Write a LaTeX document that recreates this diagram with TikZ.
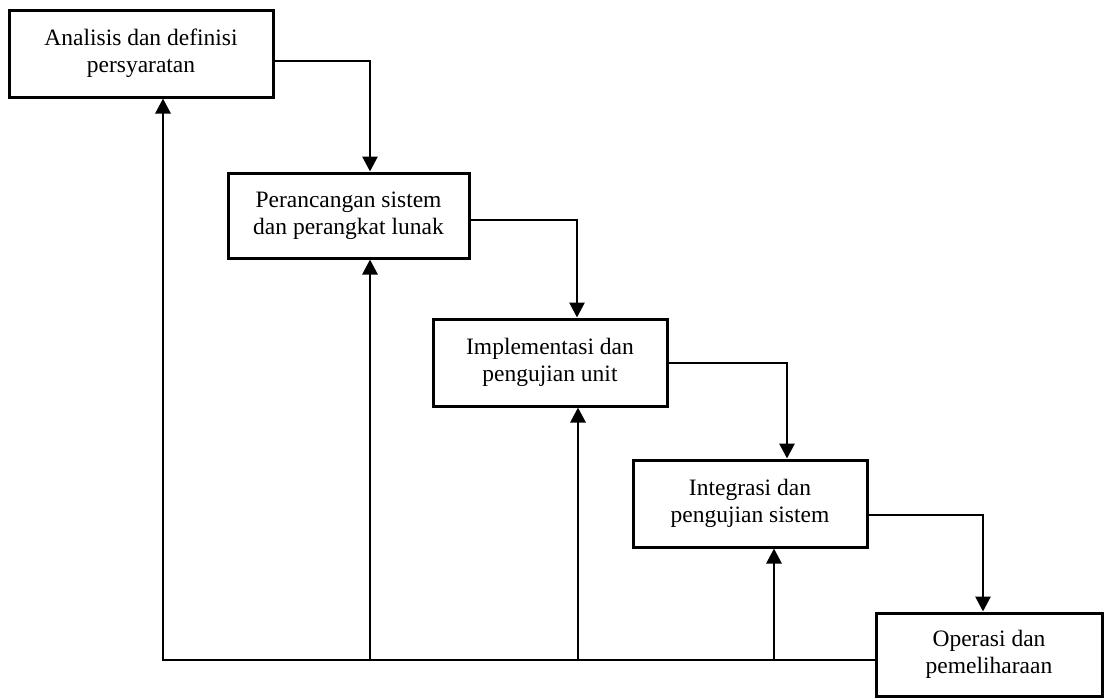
\documentclass[tikz,border=0pt]{standalone}
\usepackage{fontspec}
\setmainfont{Liberation Serif}
\usetikzlibrary{arrows.meta}
\begin{document}
\begin{tikzpicture}[x=1pt,y=-1pt,
  box/.style={draw, line width=3pt, align=center, inner sep=0pt,
    font=\fontsize{23.5}{27}\selectfont},
  arr/.style={line width=2.8pt, -{Triangle[width=15pt,length=15pt]}}]
\useasboundingbox (0,0) rectangle (1109,697);
\node[box, minimum width=264pt, minimum height=87pt] (b1) at (141,53.5) {Analisis dan definisi\\persyaratan};
\node[box, minimum width=241pt, minimum height=85pt] (b2) at (348.5,215.5) {Perancangan sistem\\dan perangkat lunak};
\node[box, minimum width=234pt, minimum height=87pt] (b3) at (550,362.5) {Implementasi dan\\pengujian unit};
\node[box, minimum width=234pt, minimum height=87pt] (b4) at (750,503.5) {Integrasi dan\\pengujian sistem};
\node[box, minimum width=226pt, minimum height=83pt] (b5) at (989,654.5) {Operasi dan\\pemeliharaan};
% forward flow
\draw[arr] ([yshift=-7.5pt]b1.east) -| ([xshift=21.5pt]b2.north);
\draw[arr] ([yshift=-4.5pt]b2.east) -| ([xshift=27pt]b3.north);
\draw[arr] ([yshift=-0.5pt]b3.east) -| ([xshift=37pt]b4.north);
\draw[arr] ([yshift=-11.5pt]b4.east) -| ([xshift=-6pt]b5.north);
% feedback
\coordinate (bl) at (0,660);
\draw[arr] ([yshift=-5.5pt]b5.west) -| ([xshift=22pt]b1.south);
\draw[arr] ([xshift=21.5pt]b2.south |- bl) -- ([xshift=21.5pt]b2.south);
\draw[arr] ([xshift=28pt]b3.south |- bl) -- ([xshift=28pt]b3.south);
\draw[arr] ([xshift=24pt]b4.south |- bl) -- ([xshift=24pt]b4.south);
\end{tikzpicture}
\end{document}
